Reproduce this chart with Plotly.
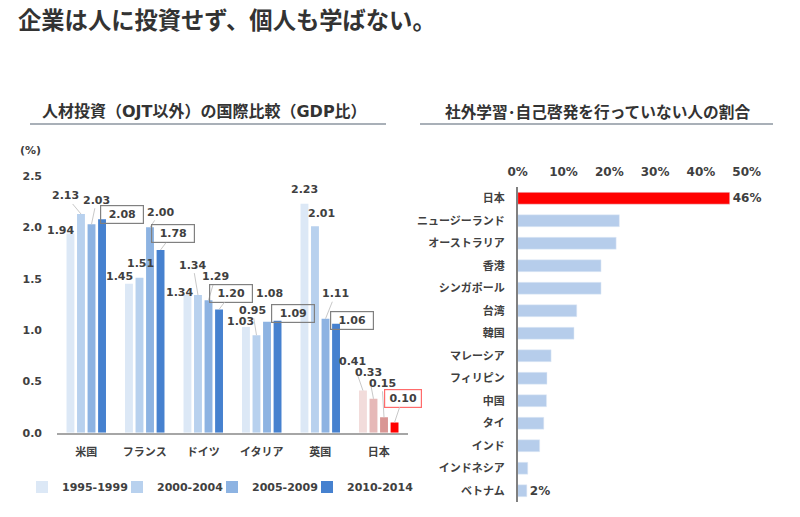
import plotly.graph_objects as go

# ---------------- data ----------------
countries = ["米国", "フランス", "ドイツ", "イタリア", "英国", "日本"]
periods = ["1995-1999", "2000-2004", "2005-2009", "2010-2014"]
v1995 = [1.94, 1.45, 1.34, 1.03, 2.23, 0.41]
v2000 = [2.13, 1.51, 1.34, 0.95, 2.01, 0.33]
v2005 = [2.03, 2.00, 1.29, 1.08, 1.11, 0.15]
v2010 = [2.08, 1.78, 1.20, 1.09, 1.06, 0.10]
left_ticks = [0.0, 0.5, 1.0, 1.5, 2.0, 2.5]

regions = ["日本", "ニュージーランド", "オーストラリア", "香港", "シンガポール", "台湾", "韓国",
           "マレーシア", "フィリピン", "中国", "タイ", "インド", "インドネシア", "ベトナム"]
share = [46.3, 22.2, 21.5, 18.2, 18.2, 12.9, 12.3, 7.3, 6.4, 6.3, 5.7, 4.8, 2.2, 2.0]
labeled_regions = ["日本", "ベトナム"]
right_ticks = [0, 10, 20, 30, 40, 50]

# ---------------- styles ----------------
W, H = 800, 517
NUM = "DejaVu Sans, Noto Sans CJK JP"
JP = "Noto Sans CJK JP"
TXT = "#404040"
blue_cols = ["#DCE8F6", "#B8D1EE", "#8DB3E2", "#4681CF"]
japan_cols = ["#F2DCDB", "#E6B9B8", "#D99694", "#FF0000"]
slot, bw = 0.18, 0.135

# label placement: (dx px, dy px, leader line) per country, per period
label_pos = [
    [(-10, -3, False), (-15, -18, True), (5, -24, True), (20, -5, False)],
    [(-9, -7, False), (1, -14, False), (10, -15, True), (12, -16, True)],
    [(-8, -3, False), (-5, -30, True), (7, -24, True), (12, -16, True)],
    [(-5, -5, False), (-4, -25, True), (2, -28, False), (15, -7, False)],
    [(0, -14, False), (7, -13, False), (10, -25, True), (16, -3, False)],
    [(-10, -29, True), (-5, -26, True), (-2, -34, True), (8, -24, True)],
]

series = [v1995, v2000, v2005, v2010]
xi = list(range(len(countries)))

fig = go.Figure()
for j, (name, vals) in enumerate(zip(periods, series)):
    cols = [blue_cols[j]] * (len(countries) - 1) + [japan_cols[j]]
    fig.add_trace(go.Bar(
        x=xi, y=vals, name=name, xaxis="x", yaxis="y",
        width=bw, offset=(j - 1.5) * slot - bw / 2,
        marker=dict(color=cols, line=dict(width=0)),
        hoverinfo="skip", legend="legend",
        legendwidth=72 if j == len(periods) - 1 else None,
    ))

fig.add_trace(go.Bar(
    y=regions, x=share, orientation="h", xaxis="x2", yaxis="y2",
    width=0.53, showlegend=False,
    marker=dict(color=["#FF0000" if r == "日本" else "#B6CDEB" for r in regions]),
    text=[f"{v:.0f}%" if r in labeled_regions else "" for r, v in zip(regions, share)],
    textposition="outside", cliponaxis=False, constraintext="none",
    textfont=dict(family=NUM, size=12, color=TXT, weight="bold"),
    hoverinfo="skip",
))

annotations = []
for i, c in enumerate(countries):
    for j, vals in enumerate(series):
        v = vals[i]
        dx, dy, line = label_pos[i][j]
        boxed = j == 3
        is_jp = c == "日本"
        a = dict(
            x=i + (j - 1.5) * slot, y=v, xref="x", yref="y",
            text=f"{v:.2f}",
            font=dict(family=NUM, size=11, color=TXT, weight="bold"),
        )
        if boxed:
            a.update(bordercolor="#FF6B6B" if is_jp else "#808080", borderwidth=1.2,
                     borderpad=1, width=34 if is_jp else 40, height=15, bgcolor="rgba(255,255,255,0)")
        if line:
            a.update(showarrow=True, ax=dx, ay=dy, arrowhead=0, arrowwidth=1,
                     arrowcolor="#C8C8C8", standoff=0)
        else:
            a.update(showarrow=False, xshift=dx, yshift=-dy)
        annotations.append(a)

annotations += [
    dict(text="人材投資（OJT以外）の国際比較（GDP比）", x=205 / W, y=1 - 112 / H,
         xref="paper", yref="paper", xanchor="center", yanchor="middle", showarrow=False,
         font=dict(family=NUM, size=16, color="#333333", weight="bold")),
    dict(text="社外学習･自己啓発を行っていない人の割合", x=597 / W, y=1 - 112 / H,
         xref="paper", yref="paper", xanchor="center", yanchor="middle", showarrow=False,
         font=dict(family=JP, size=15.7, color="#333333", weight="bold")),
    dict(text="(%)", x=30 / W, y=1 - 150 / H, xref="paper", yref="paper",
         xanchor="center", yanchor="middle", showarrow=False,
         font=dict(family=NUM, size=11, color=TXT, weight="bold")),
]

shapes = [
    dict(type="line", xref="paper", yref="paper", x0=30 / W, x1=386 / W,
         y0=1 - 124 / H, y1=1 - 124 / H, line=dict(color="#A9B0B8", width=2)),
    dict(type="line", xref="paper", yref="paper", x0=420 / W, x1=773 / W,
         y0=1 - 124 / H, y1=1 - 124 / H, line=dict(color="#A9B0B8", width=2)),
]

fig.update_layout(
    width=W, height=H, autosize=False,
    margin=dict(l=0, r=0, t=0, b=0, autoexpand=False),
    paper_bgcolor="white", plot_bgcolor="white",
    barmode="overlay",
    title=dict(text="企業は人に投資せず、個人も学ばない。", x=18 / W, xanchor="left",
               y=1 - 21 / H, yanchor="middle", yref="container",
               font=dict(family=JP, size=23.3, color="#333333", weight="bold")),
    xaxis=dict(domain=[57 / W, 408 / W], range=[-0.5, 5.5], tickvals=xi, ticktext=countries,
               showgrid=False, zeroline=False, showline=True, linecolor="#A6A6A6", linewidth=1.5,
               ticks="", ticklabelstandoff=8, automargin=False,
               tickfont=dict(family=JP, size=11, color=TXT, weight="bold"), fixedrange=True),
    yaxis=dict(domain=[1 - 432.7 / H, 1 - 176 / H], range=[0, 2.5], tickvals=left_ticks,
               tickformat=".1f", showgrid=False, zeroline=False, showline=False, ticks="",
               ticklabelstandoff=14, automargin=False,
               tickfont=dict(family=NUM, size=11, color=TXT, weight="bold"), fixedrange=True),
    xaxis2=dict(domain=[517.7 / W, 746.7 / W], range=[0, 50], anchor="y2", side="top",
                tickvals=right_ticks, ticktext=[f"{t}%" for t in right_ticks],
                showgrid=False, zeroline=False, automargin=False,
                showline=False, ticks="", ticklabelstandoff=8,
                tickfont=dict(family=NUM, size=12, color=TXT, weight="bold"), fixedrange=True),
    yaxis2=dict(domain=[1 - 502 / H, 1 - 187 / H], anchor="x2", categoryorder="array",
                categoryarray=regions, autorange="reversed", showgrid=False, zeroline=False,
                showline=True, linecolor="#808080", linewidth=1.5, ticks="",
                ticklabelstandoff=9, automargin=False,
                tickfont=dict(family=JP, size=11, color=TXT, weight="bold"), fixedrange=True),
    legend=dict(orientation="h", x=22 / W, xanchor="left", y=1 - 487 / H, yanchor="middle",
                entrywidth=50, font=dict(family=NUM, size=11, color=TXT, weight="bold"),
                bgcolor="rgba(0,0,0,0)"),
    annotations=annotations, shapes=shapes,
)

fig.write_html("out.html", post_script="document.body.style.margin='0';",
               config={"displayModeBar": False})
